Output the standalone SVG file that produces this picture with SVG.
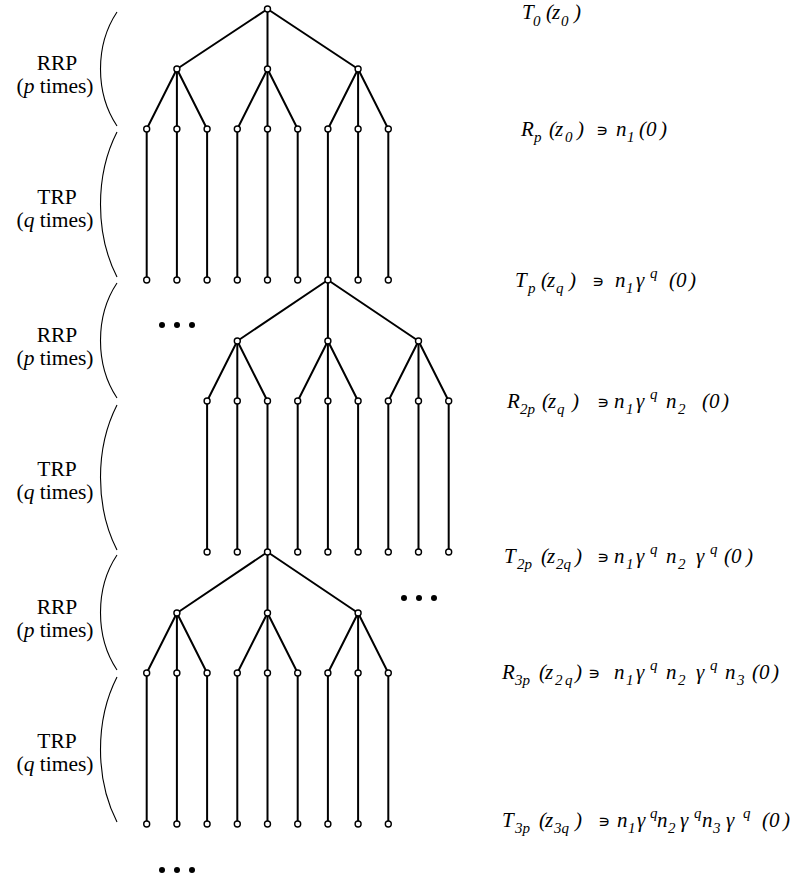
<svg xmlns="http://www.w3.org/2000/svg" width="796" height="882" viewBox="0 0 796 882">
<style>
.e{stroke:#000;stroke-width:2;fill:none;stroke-linecap:round}
.n{fill:#fff;stroke:#000;stroke-width:1.4}
.d{fill:#000}
.b{fill:none;stroke:#000;stroke-width:1.1}
.lab{font-family:'Liberation Serif','Times New Roman',Times,'DejaVu Serif',serif;font-size:21.5px;text-anchor:middle;fill:#000}
.f{font-family:'Liberation Serif','Times New Roman',Times,'DejaVu Serif',serif;font-style:italic;font-size:21px;fill:#000}
.s{font-size:15px}
.u{font-family:'DejaVu Sans',sans-serif;font-style:normal;font-size:17px}
</style>
<rect width="796" height="882" fill="#fff"/>

<g id="braces">
<path class="b" d="M117,12 C95,45 95,93 117,126"/>
<path class="b" d="M117,132 C95,175 95,234 117,277"/>
<path class="b" d="M117,283 C95,316 95,365 117,398"/>
<path class="b" d="M117,405 C95,448 95,507 117,550"/>
<path class="b" d="M117,555 C95,588 95,637 117,670"/>
<path class="b" d="M117,677 C95,720 95,779 117,822"/>
</g>

<g id="phase-labels">
<text class="lab" x="57" y="70">RRP</text>
<text class="lab" x="55" y="93">(<tspan font-style="italic">p</tspan> times)</text>
<text class="lab" x="57" y="204">TRP</text>
<text class="lab" x="55" y="227">(<tspan font-style="italic">q</tspan> times)</text>
<text class="lab" x="57" y="342">RRP</text>
<text class="lab" x="55" y="365">(<tspan font-style="italic">p</tspan> times)</text>
<text class="lab" x="57" y="476">TRP</text>
<text class="lab" x="55" y="499">(<tspan font-style="italic">q</tspan> times)</text>
<text class="lab" x="57" y="614">RRP</text>
<text class="lab" x="55" y="637">(<tspan font-style="italic">p</tspan> times)</text>
<text class="lab" x="57" y="748">TRP</text>
<text class="lab" x="55" y="771">(<tspan font-style="italic">q</tspan> times)</text>
</g>

<g id="connectors">
<line class="e" x1="267.5" y1="9" x2="176.9" y2="69"/>
<line class="e" x1="267.5" y1="9" x2="267.5" y2="69"/>
<line class="e" x1="267.5" y1="9" x2="358.1" y2="69"/>
<line class="e" x1="176.9" y1="69" x2="146.7" y2="129"/>
<line class="e" x1="176.9" y1="69" x2="176.9" y2="129"/>
<line class="e" x1="176.9" y1="69" x2="207.1" y2="129"/>
<line class="e" x1="267.5" y1="69" x2="237.3" y2="129"/>
<line class="e" x1="267.5" y1="69" x2="267.5" y2="129"/>
<line class="e" x1="267.5" y1="69" x2="297.7" y2="129"/>
<line class="e" x1="358.1" y1="69" x2="327.9" y2="129"/>
<line class="e" x1="358.1" y1="69" x2="358.1" y2="129"/>
<line class="e" x1="358.1" y1="69" x2="388.3" y2="129"/>
<line class="e" x1="146.7" y1="129" x2="146.7" y2="280"/>
<line class="e" x1="176.9" y1="129" x2="176.9" y2="280"/>
<line class="e" x1="207.1" y1="129" x2="207.1" y2="280"/>
<line class="e" x1="237.3" y1="129" x2="237.3" y2="280"/>
<line class="e" x1="267.5" y1="129" x2="267.5" y2="280"/>
<line class="e" x1="297.7" y1="129" x2="297.7" y2="280"/>
<line class="e" x1="327.9" y1="129" x2="327.9" y2="280"/>
<line class="e" x1="358.1" y1="129" x2="358.1" y2="280"/>
<line class="e" x1="388.3" y1="129" x2="388.3" y2="280"/>
<line class="e" x1="327.9" y1="280" x2="237.3" y2="341"/>
<line class="e" x1="327.9" y1="280" x2="327.9" y2="341"/>
<line class="e" x1="327.9" y1="280" x2="418.5" y2="341"/>
<line class="e" x1="237.3" y1="341" x2="207.1" y2="401"/>
<line class="e" x1="237.3" y1="341" x2="237.3" y2="401"/>
<line class="e" x1="237.3" y1="341" x2="267.5" y2="401"/>
<line class="e" x1="327.9" y1="341" x2="297.7" y2="401"/>
<line class="e" x1="327.9" y1="341" x2="327.9" y2="401"/>
<line class="e" x1="327.9" y1="341" x2="358.1" y2="401"/>
<line class="e" x1="418.5" y1="341" x2="388.3" y2="401"/>
<line class="e" x1="418.5" y1="341" x2="418.5" y2="401"/>
<line class="e" x1="418.5" y1="341" x2="448.7" y2="401"/>
<line class="e" x1="207.1" y1="401" x2="207.1" y2="552"/>
<line class="e" x1="237.3" y1="401" x2="237.3" y2="552"/>
<line class="e" x1="267.5" y1="401" x2="267.5" y2="552"/>
<line class="e" x1="297.7" y1="401" x2="297.7" y2="552"/>
<line class="e" x1="327.9" y1="401" x2="327.9" y2="552"/>
<line class="e" x1="358.1" y1="401" x2="358.1" y2="552"/>
<line class="e" x1="388.3" y1="401" x2="388.3" y2="552"/>
<line class="e" x1="418.5" y1="401" x2="418.5" y2="552"/>
<line class="e" x1="448.7" y1="401" x2="448.7" y2="552"/>
<line class="e" x1="267.5" y1="552" x2="176.9" y2="613"/>
<line class="e" x1="267.5" y1="552" x2="267.5" y2="613"/>
<line class="e" x1="267.5" y1="552" x2="358.1" y2="613"/>
<line class="e" x1="176.9" y1="613" x2="146.7" y2="673"/>
<line class="e" x1="176.9" y1="613" x2="176.9" y2="673"/>
<line class="e" x1="176.9" y1="613" x2="207.1" y2="673"/>
<line class="e" x1="267.5" y1="613" x2="237.3" y2="673"/>
<line class="e" x1="267.5" y1="613" x2="267.5" y2="673"/>
<line class="e" x1="267.5" y1="613" x2="297.7" y2="673"/>
<line class="e" x1="358.1" y1="613" x2="327.9" y2="673"/>
<line class="e" x1="358.1" y1="613" x2="358.1" y2="673"/>
<line class="e" x1="358.1" y1="613" x2="388.3" y2="673"/>
<line class="e" x1="146.7" y1="673" x2="146.7" y2="824"/>
<line class="e" x1="176.9" y1="673" x2="176.9" y2="824"/>
<line class="e" x1="207.1" y1="673" x2="207.1" y2="824"/>
<line class="e" x1="237.3" y1="673" x2="237.3" y2="824"/>
<line class="e" x1="267.5" y1="673" x2="267.5" y2="824"/>
<line class="e" x1="297.7" y1="673" x2="297.7" y2="824"/>
<line class="e" x1="327.9" y1="673" x2="327.9" y2="824"/>
<line class="e" x1="358.1" y1="673" x2="358.1" y2="824"/>
<line class="e" x1="388.3" y1="673" x2="388.3" y2="824"/>
</g>

<g id="tree1-nodes">
<g id="t1-root"><circle class="n" cx="267.5" cy="9" r="3"/></g>
<g id="t1-a1"><circle class="n" cx="176.9" cy="69" r="3"/></g>
<g id="t1-a2"><circle class="n" cx="267.5" cy="69" r="3"/></g>
<g id="t1-a3"><circle class="n" cx="358.1" cy="69" r="3"/></g>
<g id="t1-b1"><circle class="n" cx="146.7" cy="129" r="3"/></g>
<g id="t1-b2"><circle class="n" cx="176.9" cy="129" r="3"/></g>
<g id="t1-b3"><circle class="n" cx="207.1" cy="129" r="3"/></g>
<g id="t1-b4"><circle class="n" cx="237.3" cy="129" r="3"/></g>
<g id="t1-b5"><circle class="n" cx="267.5" cy="129" r="3"/></g>
<g id="t1-b6"><circle class="n" cx="297.7" cy="129" r="3"/></g>
<g id="t1-b7"><circle class="n" cx="327.9" cy="129" r="3"/></g>
<g id="t1-b8"><circle class="n" cx="358.1" cy="129" r="3"/></g>
<g id="t1-b9"><circle class="n" cx="388.3" cy="129" r="3"/></g>
<g id="t1-c1"><circle class="n" cx="146.7" cy="280" r="3"/></g>
<g id="t1-c2"><circle class="n" cx="176.9" cy="280" r="3"/></g>
<g id="t1-c3"><circle class="n" cx="207.1" cy="280" r="3"/></g>
<g id="t1-c4"><circle class="n" cx="237.3" cy="280" r="3"/></g>
<g id="t1-c5"><circle class="n" cx="267.5" cy="280" r="3"/></g>
<g id="t1-c6"><circle class="n" cx="297.7" cy="280" r="3"/></g>
<g id="t1-c7-t2-root"><circle class="n" cx="327.9" cy="280" r="3"/></g>
<g id="t1-c8"><circle class="n" cx="358.1" cy="280" r="3"/></g>
<g id="t1-c9"><circle class="n" cx="388.3" cy="280" r="3"/></g>
</g>

<g id="tree2-nodes">
<g id="t2-a1"><circle class="n" cx="237.3" cy="341" r="3"/></g>
<g id="t2-a2"><circle class="n" cx="327.9" cy="341" r="3"/></g>
<g id="t2-a3"><circle class="n" cx="418.5" cy="341" r="3"/></g>
<g id="t2-b1"><circle class="n" cx="207.1" cy="401" r="3"/></g>
<g id="t2-b2"><circle class="n" cx="237.3" cy="401" r="3"/></g>
<g id="t2-b3"><circle class="n" cx="267.5" cy="401" r="3"/></g>
<g id="t2-b4"><circle class="n" cx="297.7" cy="401" r="3"/></g>
<g id="t2-b5"><circle class="n" cx="327.9" cy="401" r="3"/></g>
<g id="t2-b6"><circle class="n" cx="358.1" cy="401" r="3"/></g>
<g id="t2-b7"><circle class="n" cx="388.3" cy="401" r="3"/></g>
<g id="t2-b8"><circle class="n" cx="418.5" cy="401" r="3"/></g>
<g id="t2-b9"><circle class="n" cx="448.7" cy="401" r="3"/></g>
<g id="t2-c1"><circle class="n" cx="207.1" cy="552" r="3"/></g>
<g id="t2-c2"><circle class="n" cx="237.3" cy="552" r="3"/></g>
<g id="t2-c3-t3-root"><circle class="n" cx="267.5" cy="552" r="3"/></g>
<g id="t2-c4"><circle class="n" cx="297.7" cy="552" r="3"/></g>
<g id="t2-c5"><circle class="n" cx="327.9" cy="552" r="3"/></g>
<g id="t2-c6"><circle class="n" cx="358.1" cy="552" r="3"/></g>
<g id="t2-c7"><circle class="n" cx="388.3" cy="552" r="3"/></g>
<g id="t2-c8"><circle class="n" cx="418.5" cy="552" r="3"/></g>
<g id="t2-c9"><circle class="n" cx="448.7" cy="552" r="3"/></g>
</g>

<g id="tree3-nodes">
<g id="t3-a1"><circle class="n" cx="176.9" cy="613" r="3"/></g>
<g id="t3-a2"><circle class="n" cx="267.5" cy="613" r="3"/></g>
<g id="t3-a3"><circle class="n" cx="358.1" cy="613" r="3"/></g>
<g id="t3-b1"><circle class="n" cx="146.7" cy="673" r="3"/></g>
<g id="t3-b2"><circle class="n" cx="176.9" cy="673" r="3"/></g>
<g id="t3-b3"><circle class="n" cx="207.1" cy="673" r="3"/></g>
<g id="t3-b4"><circle class="n" cx="237.3" cy="673" r="3"/></g>
<g id="t3-b5"><circle class="n" cx="267.5" cy="673" r="3"/></g>
<g id="t3-b6"><circle class="n" cx="297.7" cy="673" r="3"/></g>
<g id="t3-b7"><circle class="n" cx="327.9" cy="673" r="3"/></g>
<g id="t3-b8"><circle class="n" cx="358.1" cy="673" r="3"/></g>
<g id="t3-b9"><circle class="n" cx="388.3" cy="673" r="3"/></g>
<g id="t3-c1"><circle class="n" cx="146.7" cy="824" r="3"/></g>
<g id="t3-c2"><circle class="n" cx="176.9" cy="824" r="3"/></g>
<g id="t3-c3"><circle class="n" cx="207.1" cy="824" r="3"/></g>
<g id="t3-c4"><circle class="n" cx="237.3" cy="824" r="3"/></g>
<g id="t3-c5"><circle class="n" cx="267.5" cy="824" r="3"/></g>
<g id="t3-c6"><circle class="n" cx="297.7" cy="824" r="3"/></g>
<g id="t3-c7"><circle class="n" cx="327.9" cy="824" r="3"/></g>
<g id="t3-c8"><circle class="n" cx="358.1" cy="824" r="3"/></g>
<g id="t3-c9"><circle class="n" cx="388.3" cy="824" r="3"/></g>
</g>

<g id="ellipses">
<circle class="d" cx="162" cy="325" r="3"/><circle class="d" cx="177" cy="325" r="3"/><circle class="d" cx="192" cy="325" r="3"/>
<circle class="d" cx="404" cy="598" r="3"/><circle class="d" cx="419" cy="598" r="3"/><circle class="d" cx="434" cy="598" r="3"/>
<circle class="d" cx="162" cy="870" r="3"/><circle class="d" cx="177" cy="870" r="3"/><circle class="d" cx="192" cy="870" r="3"/>
</g>

<g id="formulas">
<text class="f"><tspan x="522" y="19">T</tspan><tspan class="s" x="533" y="26">0</tspan><tspan x="546" y="19">(</tspan><tspan x="552" y="19">z</tspan><tspan class="s" x="561" y="26">0</tspan><tspan x="574" y="19">)</tspan></text>

<text class="f"><tspan x="521" y="136">R</tspan><tspan class="s" x="534" y="142">p</tspan><tspan x="549" y="136">(</tspan><tspan x="555" y="136">z</tspan><tspan class="s" x="565" y="142">0</tspan><tspan x="577" y="136">)</tspan><tspan class="u" x="596" y="136">∍</tspan><tspan x="616" y="136">n</tspan><tspan class="s" x="627" y="142">1</tspan><tspan x="639" y="136">(</tspan><tspan x="646" y="136">0</tspan><tspan x="660" y="136">)</tspan></text>

<text class="f"><tspan x="515" y="287">T</tspan><tspan class="s" x="528" y="293">p</tspan><tspan x="541" y="287">(</tspan><tspan x="547" y="287">z</tspan><tspan class="s" x="556" y="293">q</tspan><tspan x="569" y="287">)</tspan><tspan class="u" x="592" y="287">∍</tspan><tspan x="615" y="287">n</tspan><tspan class="s" x="626" y="293">1</tspan><tspan x="636" y="287">γ</tspan><tspan class="s" x="650" y="278">q</tspan><tspan x="669" y="287">(</tspan><tspan x="676" y="287">0</tspan><tspan x="689" y="287">)</tspan></text>

<text class="f"><tspan x="507" y="408">R</tspan><tspan class="s" x="520" y="414">2p</tspan><tspan x="542" y="408">(</tspan><tspan x="548" y="408">z</tspan><tspan class="s" x="557" y="414">q</tspan><tspan x="572" y="408">)</tspan><tspan class="u" x="597" y="408">∍</tspan><tspan x="614" y="408">n</tspan><tspan class="s" x="626" y="414">1</tspan><tspan x="636" y="408">γ</tspan><tspan class="s" x="650" y="399">q</tspan><tspan x="666" y="408">n</tspan><tspan class="s" x="678" y="414">2</tspan><tspan x="702" y="408">(</tspan><tspan x="709" y="408">0</tspan><tspan x="722" y="408">)</tspan></text>

<text class="f"><tspan x="504" y="563">T</tspan><tspan class="s" x="517" y="569">2p</tspan><tspan x="541" y="563">(</tspan><tspan x="547" y="563">z</tspan><tspan class="s" x="556" y="569">2q</tspan><tspan x="575" y="563">)</tspan><tspan class="u" x="597" y="563">∍</tspan><tspan x="614" y="563">n</tspan><tspan class="s" x="626" y="569">1</tspan><tspan x="636" y="563">γ</tspan><tspan class="s" x="650" y="554">q</tspan><tspan x="666" y="563">n</tspan><tspan class="s" x="678" y="569">2</tspan><tspan x="696" y="563">γ</tspan><tspan class="s" x="710" y="554">q</tspan><tspan x="724" y="563">(</tspan><tspan x="731" y="563">0</tspan><tspan x="746" y="563">)</tspan></text>

<text class="f"><tspan x="502" y="679">R</tspan><tspan class="s" x="515" y="685">3p</tspan><tspan x="539" y="679">(</tspan><tspan x="545" y="679">z</tspan><tspan class="s" x="555" y="685">2</tspan><tspan class="s" x="565" y="685">q</tspan><tspan x="575" y="679">)</tspan><tspan class="u" x="588" y="679">∍</tspan><tspan x="614" y="679">n</tspan><tspan class="s" x="626" y="685">1</tspan><tspan x="636" y="679">γ</tspan><tspan class="s" x="650" y="670">q</tspan><tspan x="666" y="679">n</tspan><tspan class="s" x="678" y="685">2</tspan><tspan x="696" y="679">γ</tspan><tspan class="s" x="710" y="670">q</tspan><tspan x="725" y="679">n</tspan><tspan class="s" x="737" y="685">3</tspan><tspan x="752" y="679">(</tspan><tspan x="759" y="679">0</tspan><tspan x="772" y="679">)</tspan></text>

<text class="f"><tspan x="502" y="827">T</tspan><tspan class="s" x="515" y="833">3p</tspan><tspan x="539" y="827">(</tspan><tspan x="545" y="827">z</tspan><tspan class="s" x="554" y="833">3q</tspan><tspan x="575" y="827">)</tspan><tspan class="u" x="598" y="827">∍</tspan><tspan x="617" y="827">n</tspan><tspan class="s" x="628" y="833">1</tspan><tspan x="637" y="827">γ</tspan><tspan class="s" x="650" y="818">q</tspan><tspan x="657" y="827">n</tspan><tspan class="s" x="668" y="833">2</tspan><tspan x="680" y="827">γ</tspan><tspan class="s" x="694" y="818">q</tspan><tspan x="702" y="827">n</tspan><tspan class="s" x="713" y="833">3</tspan><tspan x="726" y="827">γ</tspan><tspan class="s" x="743" y="818">q</tspan><tspan x="762" y="827">(</tspan><tspan x="769" y="827">0</tspan><tspan x="783" y="827">)</tspan></text>
</g>
</svg>
